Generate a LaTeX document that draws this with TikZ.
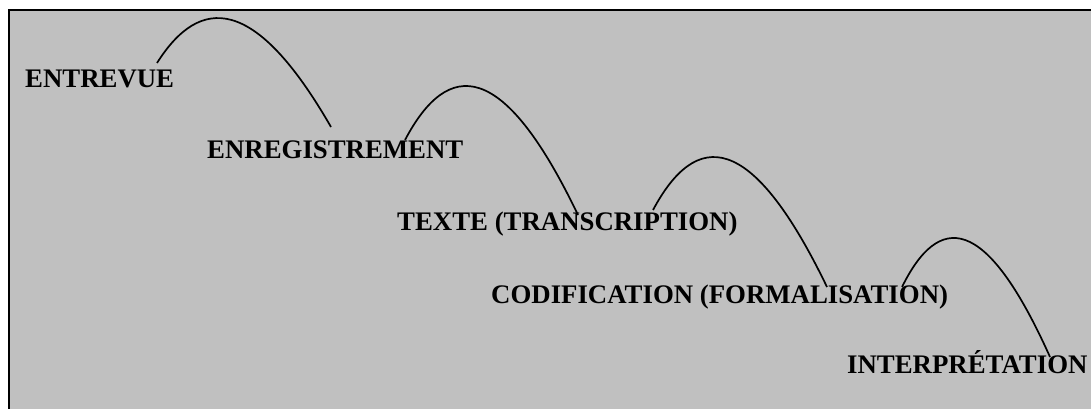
\documentclass[tikz,border=0pt]{standalone}
\usepackage{fontspec}
\setmainfont{Liberation Serif}
\definecolor{panel}{HTML}{C0C0C0}

\begin{document}
\begin{tikzpicture}[x=1pt, y=-1pt,
    every node/.style={anchor=base west, inner sep=0pt, font=\fontsize{26.8}{31}\selectfont\bfseries},
    hop/.style={line width=1.7pt}]
    \useasboundingbox (0,0) rectangle (1091,409);
    % grey panel, framed on the left and top only
    \fill[panel] (9,10) rectangle (1091,409);
    \draw[line width=2.5pt] (9,409) -- (9,10) -- (1091,10);

    \node (entrevue) at (25,88) {ENTREVUE};
    \node (enregistrement) at (207,158) {ENREGISTREMENT};
    \node (texte) at (397,230) {TEXTE (TRANSCRIPTION)};
    \node (codification) at (491,303) {CODIFICATION (FORMALISATION)};
    \node (interpretation) at (847,373) {INTERPRÉTATION};

    % ends of the hops
    \coordinate (s1) at (157,63);
    \coordinate (e1) at (331,127);
    \coordinate (s2) at (405,140);
    \coordinate (e2) at (578,215);
    \coordinate (s3) at (653,210);
    \coordinate (e3) at (827,287);
    \coordinate (s4) at (902,287);
    \coordinate (e4) at (1050,357);

    \draw[hop] (s1) .. controls (200,-5) and (255,-5) .. (e1);
    \draw[hop] (s2) .. controls (448,58.5) and (503,58.5) .. (e2);
    \draw[hop] (s3) .. controls (696,129.7) and (751,129.7) .. (e3);
    \draw[hop] (s4) .. controls (938.6,212.8) and (985.3,212.8) .. (e4);
\end{tikzpicture}
\end{document}
